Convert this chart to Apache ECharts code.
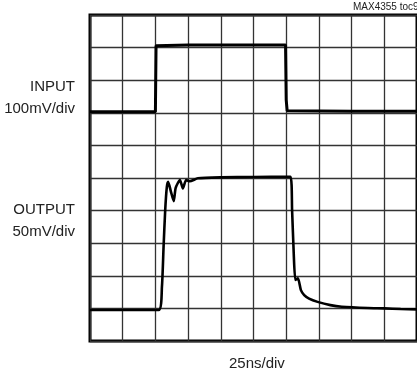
<!DOCTYPE html>
<html>
<head>
<meta charset="utf-8">
<script src="https://cdn.jsdelivr.net/npm/echarts@6/dist/echarts.min.js"></script>
<style>
  html, body { margin: 0; padding: 0; background: #fff; }
  #chart { width: 417px; height: 375px; }
</style>
</head>
<body>
<div id="chart"></div>
<script>
// time and amplitude in scope divisions (x: 25ns/div, y: from bottom of screen)
var inputX = [0, 2.0, 2.02, 3.0, 5.98, 6.0, 6.03, 8.0, 10];
var inputY = [7.03, 7.03, 9.06, 9.08, 9.08, 7.4, 7.06, 7.05, 7.05];

var outputX = [0, 2.1, 2.2, 2.25, 2.3, 2.35, 2.39, 2.47, 2.56, 2.62, 2.75, 2.84, 2.94, 3.05, 3.3, 4.0, 5.0, 6.13, 6.18, 6.23, 6.28, 6.36, 6.45, 6.55, 6.7, 6.96, 7.35, 7.7, 8.5, 9.0, 9.5, 10];
var outputY = [0.95, 0.95, 1.67, 2.89, 4.02, 4.73, 4.88, 4.6, 4.29, 4.7, 4.94, 4.68, 4.94, 4.9, 4.99, 5.02, 5.03, 5.04, 4.02, 2.69, 1.87, 1.92, 1.56, 1.41, 1.3, 1.2, 1.1, 1.05, 1.01, 1.0, 0.98, 0.97];

var labels = {
  input: ['INPUT', '100mV/div'],
  output: ['OUTPUT', '50mV/div'],
  time: '25ns/div',
  tag: 'MAX4355 toc96'
};

function pairs(xs, ys) {
  return xs.map(function (x, i) { return [x, ys[i]]; });
}

var chart = echarts.init(document.getElementById('chart'));
var font = '"Liberation Sans Narrow", "Liberation Sans", Arial, sans-serif';

chart.setOption({
  animation: false,
  grid: {
    left: 90, right: 0, top: 15, bottom: 34,
    show: true, borderColor: '#000', borderWidth: 3
  },
  xAxis: {
    type: 'value', min: 0, max: 10, interval: 1,
    axisLine: { show: false }, axisTick: { show: false }, axisLabel: { show: false },
    splitLine: { lineStyle: { color: '#333', width: 1.3 } }
  },
  yAxis: {
    type: 'value', min: 0, max: 10, interval: 1,
    axisLine: { show: false }, axisTick: { show: false }, axisLabel: { show: false },
    splitLine: { lineStyle: { color: '#333', width: 1.3 } }
  },
  graphic: [
    { type: 'text', right: 342, top: 79, style: { text: labels.input[0], font: '15px ' + font, fill: '#222', textAlign: 'right' } },
    { type: 'text', right: 342, top: 101, style: { text: labels.input[1], font: '15px ' + font, fill: '#222', textAlign: 'right' } },
    { type: 'text', right: 342, top: 202, style: { text: labels.output[0], font: '15px ' + font, fill: '#222', textAlign: 'right' } },
    { type: 'text', right: 342, top: 224, style: { text: labels.output[1], font: '15px ' + font, fill: '#222', textAlign: 'right' } },
    { type: 'text', left: 229, top: 356, style: { text: labels.time, font: '15px ' + font, fill: '#222' } },
    { type: 'text', left: 353, top: 2, style: { text: labels.tag, font: '10px ' + font, fill: '#222' } }
  ],
  series: [
    {
      name: 'INPUT', type: 'line', data: pairs(inputX, inputY),
      symbol: 'none', lineStyle: { color: '#000', width: 3 }
    },
    {
      name: 'OUTPUT', type: 'line', data: pairs(outputX, outputY),
      symbol: 'none', smooth: 0.2, lineStyle: { color: '#000', width: 2.6 }
    }
  ]
});
</script>
</body>
</html>
